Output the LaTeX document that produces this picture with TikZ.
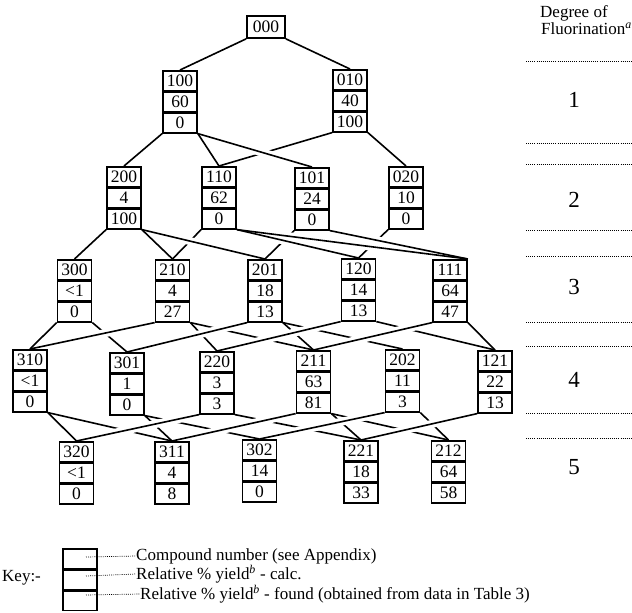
\documentclass[tikz,border=0pt]{standalone}
\usepackage{fontspec}
\setmainfont{Liberation Serif}
\usetikzlibrary{backgrounds}
\newcommand\cmpd[6]{%
  \node[cell,anchor=north] (#1) at (#2,#3) {#4};
  \node[cell,anchor=north] (#1b) at (#1.south) {#5};
  \node[cell,anchor=north] (#1c) at (#1b.south) {#6};
}
\begin{document}
\begin{tikzpicture}[x=1pt,y=-1pt,
  cell/.style={draw,line width=1.7pt,minimum width=34pt,minimum height=19.5pt,inner sep=0pt,font=\fontsize{17.5}{17.5}\selectfont},
  conn/.style={line width=1.6pt},
  halo/.style={white,line width=8pt,shorten <=7pt,shorten >=7pt},
  dotline/.style={line width=0.9pt,dash pattern=on 0.9pt off 1.2pt},
  lbl/.style={anchor=west,inner sep=0pt,font=\fontsize{17}{17}\selectfont},
  deg/.style={inner sep=0pt,font=\fontsize{23}{23}\selectfont},
  keytxt/.style={anchor=west,inner sep=0pt,font=\fontsize{17}{17}\selectfont}
]
\path[use as bounding box] (0,0) rectangle (632,613);

% compound boxes
\node[cell,minimum width=38pt,minimum height=22pt] (n000) at (266,27) {000};
\cmpd{n100}{180}{70}{100}{60}{0}
\cmpd{n010}{350}{69}{010}{40}{100}
\cmpd{n200}{124}{166}{200}{4}{100}
\cmpd{n110}{219}{166}{110}{62}{0}
\cmpd{n101}{312}{167}{101}{24}{0}
\cmpd{n020}{406}{166}{020}{10}{0}
\cmpd{n300}{74.5}{259}{300}{<1}{0}
\cmpd{n210}{172.5}{259}{210}{4}{27}
\cmpd{n201}{265}{259}{201}{18}{13}
\cmpd{n120}{358.5}{258}{120}{14}{13}
\cmpd{n111}{450}{259}{111}{64}{47}
\cmpd{n310}{30}{349}{310}{<1}{0}
\cmpd{n301}{127}{352}{301}{1}{0}
\cmpd{n220}{217}{351}{220}{3}{3}
\cmpd{n211}{313.5}{350}{211}{63}{81}
\cmpd{n202}{402.5}{349}{202}{11}{3}
\cmpd{n121}{495}{350}{121}{22}{13}
\cmpd{n320}{76.5}{441}{320}{<1}{0}
\cmpd{n311}{172}{441}{311}{4}{8}
\cmpd{n302}{259.5}{439}{302}{14}{0}
\cmpd{n221}{361}{440}{221}{18}{33}
\cmpd{n212}{448.5}{440}{212}{64}{58}

\begin{pgfonlayer}{background}
% lower lines (broken at crossings)
\foreach \a/\b in {
  n100c.south west/n200.north, n010c.south west/n110.north,
  n200c.south west/n300.north, n110c.south west/n210.north,
  n101c.south west/n201.north, n020c.south west/n120.north,
  n300c.south east/n301.north, n210c.south east/n220.north,
  n210c.south east/n211.north, n201c.south east/n211.north,
  n201c.south east/n202.north, n120c.south east/n121.north,
  n111c.south east/n121.north,
  n310c.south east/n320.north, n310c.south east/n311.north,
  n301c.south east/n311.north, n301c.south east/n302.north,
  n220c.south east/n221.north, n211c.south east/n221.north,
  n211c.south east/n212.north, n202c.south east/n212.north}
  \draw[conn] (\a) -- (\b);
% upper lines: halos first, then the lines
\foreach \a/\b in {
  n100c.south east/n110.north, n100c.south east/n101.north,
  n010c.south east/n020.north,
  n200c.south east/n210.north, n200c.south east/n201.north,
  n110c.south east/n120.north, n110c.south east/n111.north east,
  n101c.south east/n111.north east,
  n210c.south west/n310.north, n201c.south west/n301.north,
  n120c.south west/n220.north, n111c.south west/n211.north,
  n220c.south west/n320.north, n211c.south west/n311.north,
  n202c.south west/n302.north, n121c.south west/n221.north}
  \draw[halo] (\a) -- (\b);
\foreach \a/\b in {
  n000.south west/n100.north, n000.south east/n010.north,
  n100c.south east/n110.north, n100c.south east/n101.north,
  n010c.south east/n020.north,
  n200c.south east/n210.north, n200c.south east/n201.north,
  n110c.south east/n120.north, n110c.south east/n111.north east,
  n101c.south east/n111.north east,
  n300c.south west/n310.north,
  n210c.south west/n310.north, n201c.south west/n301.north,
  n120c.south west/n220.north, n111c.south west/n211.north,
  n220c.south west/n320.north, n211c.south west/n311.north,
  n202c.south west/n302.north, n121c.south west/n221.north}
  \draw[conn] (\a) -- (\b);
\end{pgfonlayer}

% degree of fluorination column
\node[lbl] (hd1) at (540,13) {Degree of};
\node[lbl] (hd2) at (541,29) {Fluorination\textsuperscript{\textit{a}}};
\foreach \yy in {61,143,164,230,256,322,346,413,438}
  \draw[dotline] (526,\yy) -- (632,\yy);
\node[deg] (d1) at (574,100) {1};
\node[deg] (d2) at (574,200) {2};
\node[deg] (d3) at (574,287) {3};
\node[deg] (d4) at (574,380) {4};
\node[deg] (d5) at (574,467) {5};

% key
\node[keytxt] (keyl) at (2,578) {Key:-};
\node[cell,anchor=north,line width=1.5pt] (k1) at (80,548) {};
\node[cell,anchor=north,line width=1.5pt] (k2) at (k1.south) {};
\node[cell,anchor=north,line width=1.5pt] (k3) at (k2.south) {};
\node[keytxt] (t1) at (136,556) {Compound number (see Appendix)};
\node[keytxt] (t2) at (136,574) {Relative \% yield\textsuperscript{\textit{b}} - calc.};
\node[keytxt] (t3) at (140,594) {Relative \% yield\textsuperscript{\textit{b}} - found (obtained from data in Table 3)};
\draw[dotline,line width=0.7pt] (86,557) -- (t1.west);
\draw[dotline,line width=0.7pt] (86,576) -- (t2.west);
\draw[dotline,line width=0.7pt] (86,595) -- (t3.west);
\end{tikzpicture}
\end{document}
